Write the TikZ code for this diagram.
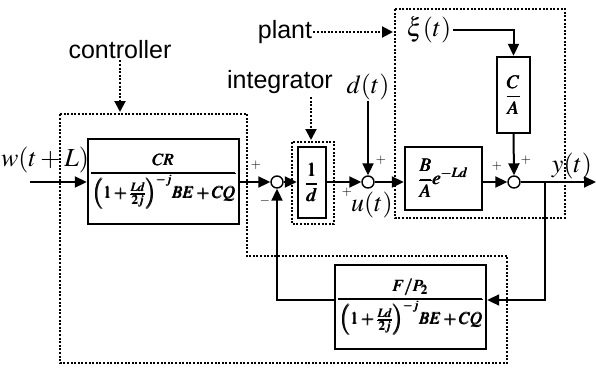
\documentclass[tikz,border=0pt]{standalone}
\usepackage{amsmath}
\usepackage{mathptmx}
\usepackage{fontspec}
\setmainfont{Liberation Serif}
\setsansfont{Liberation Sans}
\usetikzlibrary{arrows.meta,calc}

\tikzset{
  blockbox/.style={draw, line width=2.4pt, inner sep=0pt},
  sumnode/.style={draw, circle, line width=1.4pt, minimum size=12pt, inner sep=0pt},
  sig/.style={line width=2pt, -{Triangle[length=12pt,width=11pt]}},
  dotline/.style={line width=2pt, dash pattern=on 2pt off 1.6pt},
  dotarrow/.style={dotline, -{Triangle[length=11pt,width=11pt]}},
  lbl/.style={font=\sffamily\fontsize{25}{30}\selectfont, inner sep=1pt},
  mlbl/.style={font=\fontsize{26}{30}\selectfont, inner sep=1pt},
  sgn/.style={font=\fontsize{13}{15}\selectfont, inner sep=0pt}
}

\begin{document}
\begin{tikzpicture}[x=1pt,y=-1pt]
\useasboundingbox (0,0) rectangle (596,367);

%blocks
\node [blockbox, minimum width=151pt, minimum height=85pt, font=\fontsize{17}{20}\selectfont] (ctrl) at (163.5,181.5)
  {$\pmb{\dfrac{CR}{\rule{0pt}{21pt}\left(1+\frac{Ld}{2j}\right)^{-j}\!BE+CQ}}$};
\node [blockbox, minimum width=28pt, minimum height=71pt, font=\fontsize{19}{22}\selectfont] (integ) at (312,182.5) {$\pmb{\dfrac{1}{d}}$};
\node [blockbox, minimum width=77pt, minimum height=63pt, font=\fontsize{19}{22}\selectfont] (plantblk) at (443.5,178.5) {$\pmb{\dfrac{B}{A}e^{-Ld}}$};
\node [blockbox, minimum width=33pt, minimum height=76pt, font=\fontsize{19}{22}\selectfont] (dist) at (513.5,95) {$\pmb{\dfrac{C}{A}}$};
\node [blockbox, minimum width=151pt, minimum height=84pt, font=\fontsize{17}{20}\selectfont] (fb) at (410.5,307)
  {$\pmb{\dfrac{F/P_2}{\rule{0pt}{21pt}\left(1+\frac{Ld}{2j}\right)^{-j}\!BE+CQ}}$};

%summing points
\node [sumnode] (sumA) at (277,182) {};
\node [sumnode] (sumB) at (368,182) {};
\node [sumnode] (sumC) at (514,182) {};

%signal labels
\node [mlbl] (wlab) at (45,160) {$w(t+L)$};
\node [mlbl] (dlab) at (368,87) {$d(t)$};
\node [mlbl] (xilab) at (429,30) {$\xi(t)$};
\node [mlbl] (ulab) at (372,205) {$u(t)$};
\node [mlbl] (ylab) at (572,166) {$y(t)$};

%signs
\node [sgn] (pA) at (256,165) {$+$};
\node [sgn] (mA) at (265,201) {$-$};
\node [sgn] (pB1) at (381,160) {$+$};
\node [sgn] (pB2) at (347,192) {$+$};
\node [sgn] (pC1) at (497,166) {$+$};
\node [sgn] (pC2) at (526,160) {$+$};

%free ends
\coordinate (win) at (30,182);
\coordinate (yout) at (596,182);
\coordinate (br) at (545,182);
\coordinate (brdn) at (545,300);

%forward path
\draw [sig] (win) -- (ctrl.west |- win);
\draw [sig] (ctrl.east |- sumA) -- (sumA.west);
\draw [sig] (sumA.east) -- (integ.west |- sumA);
\draw [sig] (integ.east |- sumB) -- (sumB.west);
\draw [sig] (dlab.south) -- (sumB.north);
\draw [sig] (sumB.east) -- (plantblk.west |- sumB);
\draw [sig] (plantblk.east |- sumC) -- (sumC.west);
\draw [sig] (xilab.east) -| (dist.north);
\draw [sig] (dist.south) -- (sumC.north);
\draw [sig] (sumC.east) -- (yout);

%feedback path
\draw [sig] (br) -- (brdn) -- (fb.east |- brdn);
\draw [sig] (fb.west |- brdn) -| (sumA.south);

%dotted groups
\draw [dotline] (60,114) -- (247,114) -- (247,256) -- (507,256) -- (507,363) -- (60,363) -- cycle;
\draw [dotline] (292,142) rectangle (334,224);
\draw [dotline] (395,9) rectangle (565,218);

%group labels
\node [lbl] (ctrllab) at (120,50) {controller};
\node [lbl] (intlab) at (280,82) {integrator};
\node [lbl] (plantlab) at (285,32) {plant};
\draw [dotarrow] (ctrllab.south) -- (120,112);
\draw [dotarrow] (311,97) -- (311,140);
\draw [dotarrow] (plantlab.east) -- (393,32);

\end{tikzpicture}
\end{document}
